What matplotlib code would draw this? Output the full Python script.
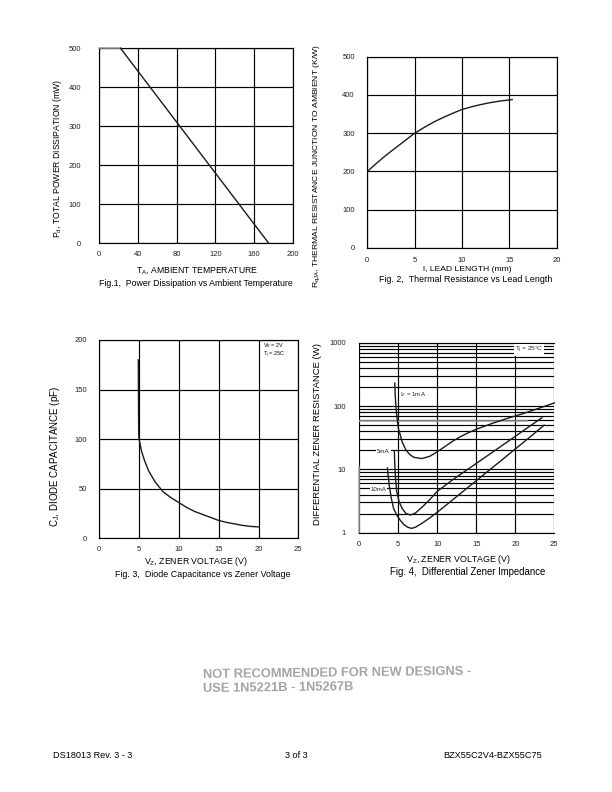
import matplotlib
matplotlib.use('Agg')
import matplotlib.pyplot as plt
import numpy as np

plt.rcParams['font.family'] = ['Liberation Sans', 'DejaVu Sans']
plt.rcParams['mathtext.fontset'] = 'custom'
plt.rcParams['mathtext.rm'] = 'Liberation Sans'
plt.rcParams['mathtext.it'] = 'Liberation Sans'
plt.rcParams['mathtext.bf'] = 'Liberation Sans:bold'

# ---------------- data ----------------
# Fig.1 power derating
fig1_temp_flat = [0, 22]
fig1_power_flat = [500, 500]
fig1_temp_derate = [22, 175]
fig1_power_derate = [500, 0]
fig1_xticks = [0, 40, 80, 120, 160, 200]
fig1_yticks = [0, 100, 200, 300, 400, 500]

# Fig.2 thermal resistance vs lead length
fig2_length = [0, 1, 2, 3, 4, 5, 6, 7, 8, 9, 10, 11, 12, 13, 14, 15, 15.3]
fig2_rth = [200, 222, 243, 262, 281, 300, 315, 329, 341, 352, 362, 369, 375, 380, 384, 387, 388]
fig2_xticks = [0, 5, 10, 15, 20]
fig2_yticks = [0, 100, 200, 300, 400, 500]

# Fig.3 diode capacitance vs zener voltage
fig3_vz = [4.9, 4.92, 4.95, 5.0, 5.3, 5.7, 6.2, 7.0, 8.0, 9.0, 10, 11, 12, 13, 14, 15, 16, 17, 18, 19, 20]
fig3_cap = [180, 140, 105, 100, 88, 78, 68, 57, 47, 41, 36, 31, 27, 24, 21, 18, 16, 14.5, 13, 12, 11.5]
fig3_xticks = [0, 5, 10, 15, 20, 25]
fig3_yticks = [0, 50, 100, 150, 200]

# Fig.4 differential zener impedance
fig4_vz_1mA = [4.55, 4.6, 4.75, 5.0, 5.5, 6.0, 6.5, 7.0, 8.0, 9.0, 10, 11, 12, 13, 14, 15, 17, 19, 21, 23, 25]
fig4_r_1mA = [230, 150, 80, 45, 27, 20, 17, 15.5, 14.8, 16, 19, 23, 28, 33, 38, 43, 53, 64, 76, 92, 112]
fig4_vz_5mA = [4.5, 4.55, 4.65, 4.8, 5.1, 5.5, 6.0, 6.6, 7.2, 8.0, 9.0, 10, 12, 14, 16, 18, 20, 22, 23.4]
fig4_r_5mA = [19, 12, 7, 4.5, 3.1, 2.4, 2.0, 1.9, 2.05, 2.5, 3.3, 4.5, 6.9, 10.2, 15.1, 22.4, 33.3, 49.5, 65]
fig4_vz_10mA = [3.6, 3.7, 3.85, 4.1, 4.4, 4.8, 5.2, 5.7, 6.2, 6.7, 7.2, 8.0, 9.0, 10, 12, 14, 16, 18, 20, 22, 23.7]
fig4_r_10mA = [10.5, 8.0, 5.5, 3.5, 2.4, 1.9, 1.6, 1.35, 1.22, 1.17, 1.22, 1.4, 1.7, 2.1, 3.33, 5.27, 8.35, 13.2, 21, 33.3, 50]
fig4_xticks = [0, 5, 10, 15, 20, 25]
fig4_yticks = [1, 10, 100, 1000]

W, H = 612, 792
fig = plt.figure(figsize=(W / 100, H / 100), dpi=100)


def box(x0, y0, x1, y1):
    return [x0 / W, 1 - y1 / H, (x1 - x0) / W, (y1 - y0) / H]


def ftext(x, y, s, **kw):
    fig.text(x / W, 1 - y / H, s, **kw)


GRID_LW = 0.85
TICK_FS = 5.5


def style(ax, xpad, ypad):
    ax.tick_params(length=0, labelsize=TICK_FS, colors='#222222')
    ax.tick_params(axis='x', pad=xpad)
    ax.tick_params(axis='y', pad=ypad)
    for sp in ax.spines.values():
        sp.set_linewidth(GRID_LW)
        sp.set_color('black')
    ax.grid(True, color='black', lw=GRID_LW)
    ax.set_axisbelow(True)


# ---------------- Fig 1 ----------------
ax1 = fig.add_axes(box(99.3, 48.3, 292.7, 243))
ax1.plot(fig1_temp_flat, fig1_power_flat, color='#9a9a9a', lw=1.1, clip_on=False, zorder=3)
ax1.plot(fig1_temp_derate, fig1_power_derate, color='#1a1a1a', lw=1.0, clip_on=False, zorder=3)
ax1.set_xlim(0, 200)
ax1.set_ylim(0, 500)
ax1.set_xticks(fig1_xticks)
ax1.set_yticks(fig1_yticks)
style(ax1, 5.5, 13)
ftext(58, 158, r'P$_d$, TOTAL POWER DISSIPATION (mW)', rotation=90, ha='center', va='center', fontsize=6.2)
ftext(197, 270, r'T$_A$, AMBIENT TEMPERATURE', ha='center', va='center', fontsize=6.2)
ftext(196, 283.5, 'Fig.1,  Power Dissipation vs Ambient Temperature', ha='center', va='center', fontsize=6.3)

# ---------------- Fig 2 ----------------
ax2 = fig.add_axes(box(367.3, 56.7, 556.7, 248))
ax2.plot(fig2_length, fig2_rth, color='#1a1a1a', lw=1.0, zorder=3)
ax2.set_xlim(0, 20)
ax2.set_ylim(0, 500)
ax2.set_xticks(fig2_xticks)
ax2.set_yticks(fig2_yticks)
style(ax2, 6.5, 9)
ftext(317, 166, r'R$_{\mathrm{qJA}}$, THERMAL RESISTANCE JUNCTION TO AMBIENT (K/W)', rotation=90,
      ha='center', va='center', fontsize=6.1)
ftext(467, 270, 'l, LEAD LENGTH (mm)', ha='center', va='center', fontsize=6.1)
ftext(466, 279.5, 'Fig. 2,  Thermal Resistance vs Lead Length', ha='center', va='center', fontsize=6.4)

# ---------------- Fig 3 ----------------
ax3 = fig.add_axes(box(99.3, 340, 298.3, 538.3))
ax3.plot(fig3_vz, fig3_cap, color='#1a1a1a', lw=1.0, zorder=3)
ax3.set_xlim(0, 25)
ax3.set_ylim(0, 200)
ax3.set_xticks(fig3_xticks)
ax3.set_yticks(fig3_yticks)
style(ax3, 5.5, 9)
ftext(263, 346, r'V$_R$ = 2V', ha='left', va='center', fontsize=3.9)
ftext(263, 355, r'T$_j$ = 25C', ha='left', va='center', fontsize=3.9)
ftext(55, 456, r'C$_J$, DIODE CAPACITANCE (pF)', rotation=90, ha='center', va='center', fontsize=7.0)
ftext(196, 561, r'V$_Z$, ZENER VOLTAGE (V)', ha='center', va='center', fontsize=6.3)
ftext(203, 574.5, 'Fig. 3,  Diode Capacitance vs Zener Voltage', ha='center', va='center', fontsize=6.4)

# ---------------- Fig 4 ----------------
ax4 = fig.add_axes(box(359.3, 342.7, 554.3, 532.7))
ax4.set_yscale('log')
ax4.set_xlim(0, 25)
ax4.set_ylim(1, 1000)
ax4.set_xticks(fig4_xticks)
ax4.set_yticks(fig4_yticks)
ax4.set_yticklabels([str(v) for v in fig4_yticks])
ax4.yaxis.set_minor_locator(matplotlib.ticker.LogLocator(base=10, subs=np.arange(2, 10)))
ax4.yaxis.set_minor_formatter(matplotlib.ticker.NullFormatter())
ax4.tick_params(which='both', length=0, labelsize=TICK_FS, colors='#222222')
ax4.tick_params(axis='x', pad=6)
ax4.tick_params(axis='y', pad=9.5)
ax4.grid(True, which='both', axis='y', color='black', lw=GRID_LW)
ax4.grid(True, which='major', axis='x', color='black', lw=GRID_LW)
ax4.set_axisbelow(True)
for k in ['left', 'right']:
    ax4.spines[k].set_visible(False)
for k in ['top', 'bottom']:
    ax4.spines[k].set_linewidth(GRID_LW)
ax4.plot([0, 21.5], [57, 57], color='#a0a0a0', lw=1.1, zorder=2)
ax4.plot([0, 0], [1, 11], color='#a0a0a0', lw=1.1, zorder=2, clip_on=False)
ax4.plot(fig4_vz_1mA, fig4_r_1mA, color='#1a1a1a', lw=1.0, zorder=3, clip_on=False)
ax4.plot(fig4_vz_5mA, fig4_r_5mA, color='#1a1a1a', lw=1.0, zorder=3)
ax4.plot(fig4_vz_10mA, fig4_r_10mA, color='#1a1a1a', lw=1.0, zorder=3)
wb = dict(facecolor='white', edgecolor='none', pad=0.6)
ax4.text(5.2, 150, r'I$_Z$ = 1mA', fontsize=4.4, ha='left', va='center', color='#222222')
ax4.text(3.1, 19, '5mA', fontsize=4.4, ha='center', va='center', color='#222222', bbox=wb)
ax4.text(2.45, 4.8, '10mA', fontsize=4.4, ha='center', va='center', color='#222222', bbox=wb)
ax4.text(21.8, 770, r'T$_j$ = 25°C', fontsize=4.6, ha='center', va='center', color='#222222', bbox=wb)
ftext(317, 434, 'DIFFERENTIAL ZENER RESISTANCE (W)', rotation=90, ha='center', va='center', fontsize=6.8)
ftext(459, 559.5, r'V$_Z$, ZENER VOLTAGE (V)', ha='center', va='center', fontsize=6.4)
ftext(467.5, 572, 'Fig. 4,  Differential Zener Impedance', ha='center', va='center', fontsize=6.9)

# ---------------- watermark & footer ----------------
wm = dict(color='#a3a3a3', fontsize=9.25, fontweight='bold', ha='left', va='baseline',
          rotation=0.7, rotation_mode='anchor')
ftext(203, 677.5, 'NOT RECOMMENDED FOR NEW DESIGNS -', **wm)
ftext(203, 692, 'USE 1N5221B - 1N5267B', **wm)

ftext(53, 756, 'DS18013 Rev. 3 - 3', ha='left', va='center', fontsize=6.6)
ftext(296, 756, '3 of 3', ha='center', va='center', fontsize=6.6)
ftext(542, 756, 'BZX55C2V4-BZX55C75', ha='right', va='center', fontsize=6.6)

fig.savefig('out.png', dpi=100)
